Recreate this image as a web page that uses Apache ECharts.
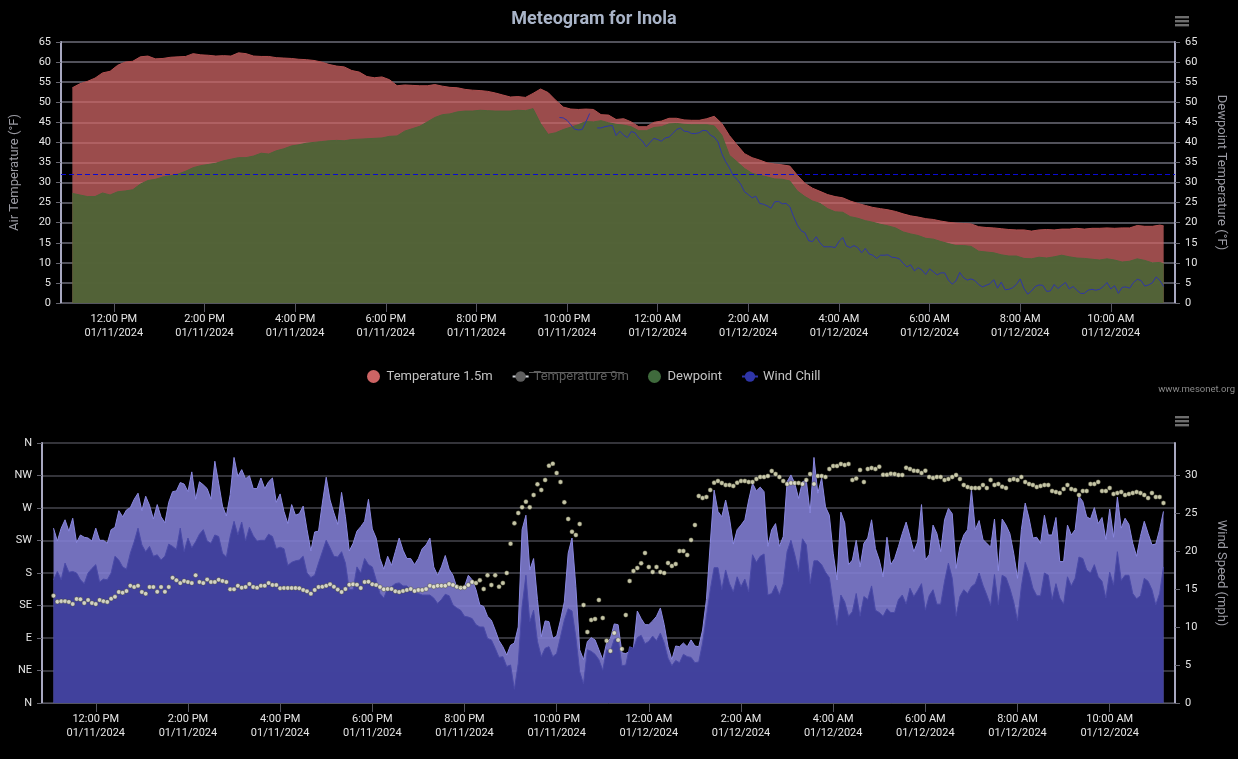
<!DOCTYPE html>
<html><head><meta charset="utf-8">
<style>html,body{margin:0;padding:0;background:#000}#c{width:1238px;height:759px}</style>
<script src="https://cdn.jsdelivr.net/npm/echarts@6/dist/echarts.min.js"></script>
</head><body><div id="c"></div>
<script>
// Index on the time axis of the first reading (11:05 AM); readings are 5 minutes apart.
const firstIdx = 3;
// Temperature readings, every 10 minutes from 11:05 AM (last one 5 minutes after its predecessor)
const temp15 = [53.6,54.6,55.2,56,57.3,57.7,59.2,60,60.2,61.3,61.5,60.8,60.9,61.2,61.3,61.4,62.1,61.8,61.7,61.5,61.6,61.5,62.3,62.1,61.5,61.4,61.4,61.1,61,60.9,60.7,60.6,60.4,60,59.4,59,58.8,57.9,57.5,56.4,56.1,56.3,55.6,54.1,54.3,54.2,54.1,54.1,54.4,54,53.7,53.6,53.2,53,52.9,52.7,52.3,51.8,51.3,51.4,51.2,52.2,53.3,52.4,50.5,48.8,48.3,48.2,48.3,48.2,46.9,46.8,45.7,45.9,45.1,43.9,43.9,45,45.3,46,46,45.6,45.5,45.5,45.9,46.5,44.7,41.7,39.4,37.2,36.2,35.6,34.9,34.6,34.4,34.1,31.8,29.8,28.6,27.8,27,26.5,26.2,25.4,24.8,24.3,23.8,23.5,23.2,22.8,22.2,21.7,21.4,21,20.8,20.4,20.1,19.9,19.8,19.7,19,18.8,18.7,18.5,18.3,18.2,18.2,17.9,18.2,18.3,18.2,18.4,18.4,18.6,18.4,18.6,18.6,18.7,18.6,18.7,18.7,19.3,19.1,19.1,19.4,19.2];
const dewpoint = [27.3,26.9,26.5,26.5,27.4,26.9,27.7,27.9,28.2,29.6,30.5,30.8,31.4,31.7,32.1,32.8,33.7,34.2,34.5,34.8,35.4,35.8,36.2,36.2,36.6,37.3,37.1,37.9,38.4,39.1,39.4,39.8,40,40.2,40.4,40.5,40.4,40.7,40.8,40.9,41,41.1,41.5,41.6,42.8,43.4,44,45.1,46.2,46.9,47.1,47.6,47.8,47.8,48,47.9,47.8,47.8,47.8,48,47.9,48.4,44.7,42,42.4,43.2,43.8,44.4,45.2,45.1,45.4,44.9,44.5,44.3,43.9,42.9,42.9,43.7,43.9,44.6,44.7,44.5,44.4,44.4,44.4,44.1,41.8,36.8,35.2,33.5,32.3,31.8,31.4,30.9,30.8,30.4,27.9,26.5,25.4,24.8,23.5,22.7,22.6,21.5,21.1,20.5,20.1,19.6,19.2,18.7,17.7,17.2,16.8,16.1,15.9,15.3,14.8,14.3,14.3,14.1,12.9,12.7,12.5,12,11.7,11.7,11.1,11,11.4,11.2,11.5,11.9,11.5,11.2,11.1,10.9,10.7,11,10.7,10.2,10.4,11,10.6,10,10.1,9.8];
// Wind chill, every 5 minutes starting at reading no. 129 (null = gap in the line)
const chillStart = 129;
const windChill = [46.2,46.1,45.5,44.4,43.3,43.1,43.2,45.1,47.2,null,43.6,43.6,43.9,44.1,44.2,41.7,42.8,41.8,41.2,42.7,42.4,41.1,40.3,38.9,40,41,40.7,40.3,41.1,41.3,42.2,43.2,43.6,42.8,42.7,42.2,42.2,42.4,43,42.9,41.8,41.3,40.1,37.2,35.2,33.7,31.7,30.8,29.6,27.7,27,26.2,26.6,24.8,24.6,24.2,23.6,25.2,25.3,24.7,24.8,24,21.5,19.4,18,17.5,15.5,15.3,16.5,15,14,14,14,13.8,15.3,16.3,14.2,13.8,14.3,13.8,12.5,13.6,12.2,11.9,11.1,11.9,11.9,12,11.4,11.3,11,9.9,9,9.5,8,8.8,8.2,7.1,8.5,7.8,7,7.5,7.5,5.7,4.7,5.5,7.6,6.3,5.7,6,5.6,4.6,4,4.4,4.8,5.8,3.7,5.2,3.3,3.4,3.8,4.6,6,3.6,2.2,3,4.1,4.5,4.4,2.9,3,4.6,3.6,4.4,5.1,3.5,4.1,3.2,2.4,2.4,3.2,3.4,3.2,3.4,4.1,5.1,3.5,4.3,2.4,3.9,4,3.7,5.1,5.9,5.6,4.2,4.5,5,6.5,5.6,4.1];
const windGust = [23,21.3,23,24.1,22.6,24.3,21.1,22.1,21.8,21.7,21.3,23,21.4,21.4,21,22.8,23.1,25.3,24.5,25.4,25.7,26.8,27.6,25.3,27.2,26,24.2,26.1,24.5,23.7,26.4,27.8,27.9,29,28.8,27.8,30.4,26.8,29.1,28.7,28.2,26.8,31.8,28.9,25.9,24.6,27.4,32.3,29.8,30.7,29.5,29.9,28.2,28.2,29.6,28.2,29.1,29.6,26.4,27.5,25.2,23.6,26.1,24.7,24.9,25.9,22.8,20,22.5,22.6,26.3,29.7,26.7,25,23.5,27.7,24.5,20,21,22.6,23.2,23.9,26.8,22.9,21.7,19,17.6,19.3,18.1,19.9,21.7,20.1,19,19,18.2,19,20.3,20.8,21.7,17.9,16.8,17.9,19.4,17.6,16.8,15.2,15,15.3,16.8,16.2,14.9,12.9,12.7,11.4,10.9,9.6,8.2,7.4,6.3,7.6,7.9,10,22.8,24.7,17.5,19,13.6,8.7,10.8,10.7,8.5,8.8,10.9,13.3,19.7,21.7,15.3,7,5.7,8.1,8.6,8.3,7,5.7,7.9,8.5,10.4,10.3,6.6,6.5,6.8,7.2,12.1,11.1,10.3,10.3,10.8,11.4,12.5,10.3,7.4,5.7,7.5,7.4,7.9,7.4,8.3,7.5,7.4,9.6,13.6,21,28,25.2,24.5,26.7,24.3,20.9,22.8,23.4,24.1,26.7,28.9,27.9,28.4,27.8,20.6,22.8,23.6,20.6,21.9,29.1,30,28.9,26.9,29.1,29.3,25,32.3,27.6,29.6,25.8,24.7,19.7,16.2,25.1,23.7,18.2,18.8,21.4,17.9,21,21.7,24.1,20.3,18.8,16.6,21.8,18.2,19,20.6,22.3,23.8,21.9,19.9,21.2,26.1,18.8,19.5,23.4,22.3,19.9,24.1,25.6,24.9,17.7,20.6,22.1,22.8,28.1,22.8,24,21.5,21,20.5,24.2,17.4,24.2,23.4,22.3,19.7,16.4,22.8,26.3,24.3,21.7,21.8,21,24.7,22.1,22.1,24.4,18.6,18.6,23.4,22.1,22.8,27.2,26.5,24.5,24.2,25.7,23.6,24.4,21.5,25.5,21.8,27.1,23,24.3,23.5,21,19.3,21.9,23.9,22.3,20.8,20.9,22.8,25.2];
const windSpeed = [16.2,17.3,16.2,18.4,17.2,17.3,17.1,16.2,15.7,17.1,17.7,18.2,15.9,16.3,16.2,17.1,19.3,18.8,17.9,17.6,19.7,21.2,23,20.8,19.9,20.6,19.3,19.5,18.8,19.3,20.9,20.6,20.2,23,19.9,21.7,20.4,21.2,22.2,22.8,21.3,21,22.1,21.9,19.7,19.2,21.9,23.9,22.1,23.8,21.3,23.1,22,21.3,21.4,21.4,22.2,21.9,20.3,20.5,20.3,18.1,18.5,18.7,18.8,19.3,17.1,16.5,16.8,18.4,19.9,21.4,20.4,19.3,19.2,19.9,18.4,14.9,14.9,17.9,17.1,19,18.2,17.9,16.2,14.4,13.8,15.1,15.3,15.7,15.8,15.4,15.4,14.9,14.6,14.4,14.2,14.2,14.2,13.8,13.1,13.6,14.3,14.1,12.9,12.5,12.2,11.4,11.3,11.1,10.3,10,10,8.5,8.3,7.2,6,6.1,4.8,5,1.8,5.2,12.7,16.8,10.7,12.2,8.1,6.1,7.2,7.4,6.1,6.5,8.7,10.9,12.4,12.1,8.7,4.1,2.5,7,6.8,6.4,5.7,4.3,7,6.8,8.4,8.5,4.9,5,7.4,7.2,8.6,8.9,7.8,8.1,8.8,8.2,9.2,7.9,5.9,4.9,5.6,5.3,6.4,6.1,6,5.3,5.4,7.9,11.4,14.9,17.8,17.8,14.9,17.5,15.7,14.6,16.6,15.3,16.3,14.6,19.5,18.5,19.3,19.6,14.2,14.4,15.5,14.2,15.7,19.9,21.4,19.5,17.3,21.6,20.8,15.7,18.7,18.7,18.2,17.2,16.5,13,10.2,14.2,13.3,11.4,12,14.4,11.4,14,13.6,15.4,12.2,11.9,11.4,12.4,11.9,11.9,13.6,14.2,13,15.1,14,14.8,15.7,12.2,14.1,14.9,13,13,16,18.4,16.4,11.4,14,14.9,14.4,15.3,15.7,17.1,15.5,14.2,12.8,16.9,12.9,16.8,16.5,15.1,13.3,10.8,15.3,18.5,17.1,15.1,14.1,14.1,17.1,16.8,13.6,15.7,13.8,13,16.6,15.4,16.4,19.2,19,17.5,17.1,18.2,16.6,16,13.8,17.2,15.5,19.9,16.1,16.8,16.8,14.4,13.7,14.1,16.4,16,14.9,12.9,14.4,17.9];
const windDir = [148.6,140.3,141,141,140,137,144,143.5,138.5,142.6,138.5,137,142.6,141,140,144.4,147,153.7,152.8,155,162.4,160.6,162.4,153.7,151.4,160.6,160.6,154,160.6,154,160.6,173.5,170,166,169,167.5,166,176.8,167.5,166,171,167.5,167.5,170.8,169,167.5,157.4,157.4,162.4,159.7,160.6,164.8,160.6,159.7,162.4,162.4,166,163.4,163.4,158.8,159.2,159.2,159.2,159.2,158.8,156.5,154.6,151.4,156.5,160.6,161,162.4,164.3,161,157,153.7,157.8,163.8,164.3,163.8,159.2,167.5,168,164.3,163.4,160.6,157.4,157.8,157.8,154.6,153.7,155,156.5,157.8,155,156.5,156.5,157.8,162.4,161,162.4,162.4,162.4,164.8,163.4,161,159.7,160,163.4,167.5,166,170,157.8,177,163.4,177,161,166,180,220.6,249,263,271,278.7,271,288,303,295,308.7,328.6,331.4,318.4,306,278,254.8,237,232.6,247.8,135.7,98.3,115,116.3,142.6,117.7,86.3,72,97,87.2,74.8,121.8,168.9,182.8,186.9,193.4,207.7,188.3,181.4,188.3,181.4,180,193.8,189.7,192.4,210.4,210.4,204.9,225.7,246.4,286.6,283.8,285.2,294.9,305,307.4,304.6,301.8,301.8,300.4,305,307.4,307.4,306,306,310.1,312.9,312.9,314.3,321.2,317,312.9,307.4,303.2,304.6,304.6,304.6,303.2,308.7,317,303.2,314.3,314.3,312.9,324,328.1,328.1,330.9,329.5,330.9,308.7,311,322.6,306,324,325.4,324,327.2,316.1,316.1,317.5,317,315.7,315.7,325.8,324,321.7,321.2,318.4,321.7,312.9,311.5,312.9,312.9,308.7,310.1,312.9,315.7,310.1,301.8,299,297.7,297.7,297.7,301.8,297.7,308.7,301.8,303.2,299.5,297.7,308.7,310.1,308.7,312.9,306,303.2,301.8,299,300.4,301.8,301.8,293.5,292.1,290.7,296.3,301.8,296.3,294.9,288,293.5,293.5,303.2,303.2,306,293.5,293.5,297.7,289.4,290.7,292.1,288,289.4,290.7,292.1,290.7,288,283.8,290.7,285.2,285.2,276.9];
const tempTicks = [0,5,10,15,20,25,30,35,40,45,50,55,60,65];
const speedTicks = [0,5,10,15,20,25,30];
const compass = ['N','NE','E','SE','S','SW','W','NW','N'];
const names = ['Temperature 1.5m','Temperature 9m','Dewpoint','Wind Chill'];

// Time axis: 5-minute slots from 10:50 AM 01/11/2024 to 11:25 AM 01/12/2024
const slots = [];
for (let m = 0; m <= 295; m++) {
  const t = new Date(Date.UTC(2024,0,11,10,50) + m*60000*5);
  const h = t.getUTCHours(), mi = t.getUTCMinutes();
  const pad = n => String(n).padStart(2,'0');
  const label = (h%12===0?12:h%12) + ':' + pad(mi) + ' ' + (h<12?'AM':'PM') + '\n' + pad(t.getUTCMonth()+1) + '/' + pad(t.getUTCDate()) + '/' + t.getUTCFullYear();
  slots.push({label, tick: mi===0 && h%2===0});
}
const cats = slots.map(s=>s.label);
const show = i => slots[i].tick;

const at10 = arr => arr.map((v,k)=>[Math.min(firstIdx+2*k, firstIdx+289), v]);
const at5 = (arr,start=0) => arr.map((v,k)=>[firstIdx+start+k, v]);

const labelColor='#e6e6e6', axisLine='#a8a8c0', nameColor='#9b9ba3', font='Roboto';
const xAxis = (gridIndex) => ({
  type:'category', gridIndex, data:cats, boundaryGap:false,
  axisLine:{lineStyle:{color:'#555560',width:1}},
  axisTick:{interval:show,length:9,lineStyle:{color:'#555560'}},
  axisLabel:{interval:show,color:labelColor,fontFamily:font,fontSize:11,lineHeight:14,margin:9,hideOverlap:false},
  splitLine:{show:false}
});
const yBase = {
  axisLine:{show:true,lineStyle:{color:axisLine,width:2}},
  axisTick:{show:true,length:5,lineStyle:{color:'#666670'}},
  axisLabel:{color:labelColor,fontFamily:font,fontSize:11,margin:10},
  nameLocation:'middle',nameGap:40,
  nameTextStyle:{color:nameColor,fontFamily:font,fontSize:13}
};
const burger = (y) => [0,4,8].map(d=>({type:'rect',shape:{x:1175,y:y+d,width:14,height:2.4},style:{fill:'#6e6e6e'},silent:true}));

const chart = echarts.init(document.getElementById('c'),null,{renderer:'canvas'});
chart.setOption({
  animation:false, backgroundColor:'#000',
  title:{text:'Meteogram for Inola',left:589,top:5,textAlign:'center',textStyle:{color:'#a9b4c8',fontFamily:font,fontSize:18,fontWeight:'bold'}},
  legend:{data:[
      {name:names[0],icon:'circle'},{name:names[1]},{name:names[2],icon:'circle'},{name:names[3]}],
    selected:{'Temperature 9m':false},
    left:362,top:365,itemWidth:16,itemHeight:13,itemGap:19,
    textStyle:{color:'#c4c4c4',fontFamily:font,fontSize:13},inactiveColor:'#5e5e5e',inactiveBorderColor:'#5e5e5e'},
  grid:[{left:42,top:42,width:1133,height:261},{left:42,top:443,width:1133,height:260}],
  xAxis:[xAxis(0),xAxis(1)],
  yAxis:[
    {...yBase,type:'value',gridIndex:0,min:0,max:65,interval:5,name:'Air Temperature (°F)',splitLine:{show:true,lineStyle:{color:'#6c6c78',width:1.5}}},
    {...yBase,type:'value',gridIndex:0,min:0,max:65,interval:5,position:'right',name:'Dewpoint Temperature (°F)',nameRotate:-90,splitLine:{show:false}},
    {...yBase,type:'value',gridIndex:1,min:0,max:360,interval:45,axisLabel:{...yBase.axisLabel,formatter:v=>compass[v/45]},splitLine:{show:true,lineStyle:{color:'#46464e',width:1.5}}},
    {...yBase,type:'value',gridIndex:1,min:0,max:34.2,position:'right',name:'Wind Speed (mph)',nameRotate:-90,splitLine:{show:false},
      axisTick:{...yBase.axisTick,customValues:speedTicks},axisLabel:{...yBase.axisLabel,customValues:speedTicks}}
  ],
  series:[
    {name:names[0],type:'line',xAxisIndex:0,yAxisIndex:0,data:at10(temp15),showSymbol:false,symbol:'none',z:2,
      itemStyle:{color:'#cd6464'},lineStyle:{color:'#b05050',width:1},areaStyle:{color:'#cf6666',opacity:0.75},
      markLine:{silent:true,symbol:'none',label:{show:false},animation:false,z:9,
        lineStyle:{color:'#0a0ad2',type:[5,3],width:1},data:[{yAxis:32}]}},
    {name:names[1],type:'line',xAxisIndex:0,yAxisIndex:0,data:[],symbol:'none',itemStyle:{color:'#777'},lineStyle:{color:'#777',width:1}},
    {name:names[2],type:'line',xAxisIndex:0,yAxisIndex:0,data:at10(dewpoint),showSymbol:false,symbol:'none',z:3,
      itemStyle:{color:'#3f6a3c'},lineStyle:{color:'#4d6438',width:1},areaStyle:{color:'#4f6337',opacity:0.97}},
    {name:names[3],type:'line',xAxisIndex:0,yAxisIndex:0,data:at5(windChill,chillStart),showSymbol:false,symbol:'none',z:4,connectNulls:false,
      itemStyle:{color:'#2f35a8'},lineStyle:{color:'#2f35a8',width:1}},
    {name:'Wind Gust',type:'line',xAxisIndex:1,yAxisIndex:3,data:at5(windGust),showSymbol:false,symbol:'none',z:2,
      lineStyle:{color:'#8a88e0',width:1},areaStyle:{color:'#8481d8',opacity:0.87}},
    {name:'Wind Speed',type:'line',xAxisIndex:1,yAxisIndex:3,data:at5(windSpeed),showSymbol:false,symbol:'none',z:3,
      lineStyle:{color:'#4a4aa8',width:1},areaStyle:{color:'#3f409c',opacity:0.97}},
    {name:'Wind Direction',type:'scatter',xAxisIndex:1,yAxisIndex:2,data:at5(windDir),symbol:'circle',symbolSize:4.5,z:5,
      itemStyle:{color:'#f6f6cf',borderColor:'#3a3a28',borderWidth:0.5}}
  ],
  graphic:[
    ...burger(16),...burger(416),
    {type:'text',style:{x:1235,y:385,text:'www.mesonet.org',fill:'#8a8a8a',font:'9.5px Roboto',align:'right'},silent:true},
    {type:'rect',shape:{x:529,y:372,width:95,height:1},style:{fill:'#5e5e5e'},silent:true}
  ]
});
</script></body></html>
